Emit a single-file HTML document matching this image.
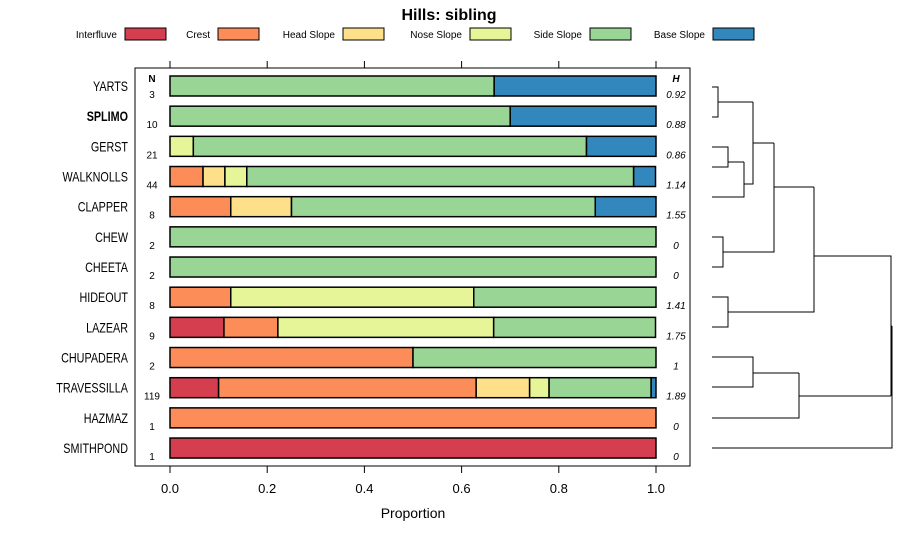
<!DOCTYPE html>
<html><head><meta charset="utf-8"><style>
body{margin:0;background:#fff;}
svg{font-family:"Liberation Sans",sans-serif;display:block}
</style></head><body>
<svg id="c" width="900" height="540" viewBox="0 0 900 540">
<text x="449" y="20" text-anchor="middle" font-size="16" font-weight="bold">Hills: sibling</text>
<g id="legend"></g>
<rect x="135" y="68" width="555" height="398" fill="none" stroke="#000" stroke-width="1"/>
<g id="bars"></g>
<g id="axis"></g>
<text x="413" y="518" text-anchor="middle" font-size="14">Proportion</text>
<text x="152" y="82" text-anchor="middle" font-size="10" font-weight="bold">N</text>
<text x="676" y="82" text-anchor="middle" font-size="10" font-weight="bold" font-style="italic">H</text>
<g id="dendro" fill="none" stroke="#000" stroke-width="1"></g>
</svg>
<script>
const classes=["Interfluve","Crest","Head Slope","Nose Slope","Side Slope","Base Slope"];
const colors=["#D53E4F","#FC8D59","#FEE08B","#E6F598","#99D594","#3288BD"];
const sites=["YARTS","SPLIMO","GERST","WALKNOLLS","CLAPPER","CHEW","CHEETA","HIDEOUT","LAZEAR","CHUPADERA","TRAVESSILLA","HAZMAZ","SMITHPOND"];
const nVals=[3,10,21,44,8,2,2,8,9,2,119,1,1];
const hVals=["0.92","0.88","0.86","1.14","1.55","0","0","1.41","1.75","1","1.89","0","0"];
const props=[
[0,0,0,0,0.667,0.333],
[0,0,0,0,0.7,0.3],
[0,0,0,0.048,0.809,0.143],
[0,0.068,0.045,0.045,0.796,0.045],
[0,0.125,0.125,0,0.625,0.125],
[0,0,0,0,1,0],
[0,0,0,0,1,0],
[0,0.125,0,0.5,0.375,0],
[0.111,0.111,0,0.444,0.333,0],
[0,0.5,0,0,0.5,0],
[0.1,0.53,0.11,0.04,0.21,0.01],
[0,1,0,0,0,0],
[1,0,0,0,0,0]];
const ticks=[0,0.2,0.4,0.6,0.8,1.0];
const NS="http://www.w3.org/2000/svg";
function mk(t,a,p){const e=document.createElementNS(NS,t);for(const k in a)e.setAttribute(k,a[k]);p.appendChild(e);return e;}
const xs=v=>170+v*486;
const ys=i=>86+i*30.17;
const lx=[125,218,343,470,590,713];
const lg=document.getElementById('legend');
classes.forEach((c,i)=>{
 const t=mk('text',{x:lx[i]-8,y:38,'text-anchor':'end','font-size':10},lg);t.textContent=c;
 
 
 const r=mk('rect',{x:lx[i],y:28,width:41,height:12,fill:colors[i],stroke:'#000'},lg);
 
 
});
const bg=document.getElementById('bars');
sites.forEach((s,i)=>{
 const y=ys(i);
 const l=mk('text',{x:128,y:y+5,'text-anchor':'end','font-size':14,'font-weight':s==='SPLIMO'?'bold':'normal'},bg);l.textContent=s;
 
 
 const w=l.getComputedTextLength();
 if(w>0){l.setAttribute('textLength',(w*0.77).toFixed(1));l.setAttribute('lengthAdjust','spacingAndGlyphs');}
 const n=mk('text',{x:152,y:y+12,'text-anchor':'middle','font-size':10},bg);n.textContent=nVals[i];
 
 
 const h=mk('text',{x:676,y:y+12,'text-anchor':'middle','font-size':10,'font-style':'italic'},bg);h.textContent=hVals[i];
 
 
 let cum=0;
 props[i].forEach((p,j)=>{
  if(p<=0)return;
  const r=mk('rect',{x:xs(cum),y:y-10,width:xs(cum+p)-xs(cum),height:20,fill:colors[j],stroke:'#000','stroke-width':1.5},bg);
  
  
  cum+=p;
 });
});
const ax=document.getElementById('axis');
ticks.forEach(t=>{
 mk('line',{x1:xs(t),x2:xs(t),y1:466,y2:473,stroke:'#000'},ax);
 mk('line',{x1:xs(t),x2:xs(t),y1:61,y2:68,stroke:'#000'},ax);
 const l=mk('text',{x:xs(t),y:493,'text-anchor':'middle','font-size':13},ax);l.textContent=t.toFixed(1);
 
 
});
const d=document.getElementById('dendro');
const segs=[
"M712 87H718V117H712","M718 102H753","M712 147H728V167H712","M728 162H744","M712 197H744V162","M744 184H753V102","M753 143H774",
"M712 237H723V267H712","M723 252H774V143","M774 187H814","M712 297H728V327H712","M728 312H814V187",
"M712 357H753V387H712","M753 373H799","M712 418H799V373","M799 396H891","M814 256H891V396","M891 326H892","M712 448H892V326"];
segs.forEach(s=>{mk('path',{d:s},d);});
</script>
</body></html>
